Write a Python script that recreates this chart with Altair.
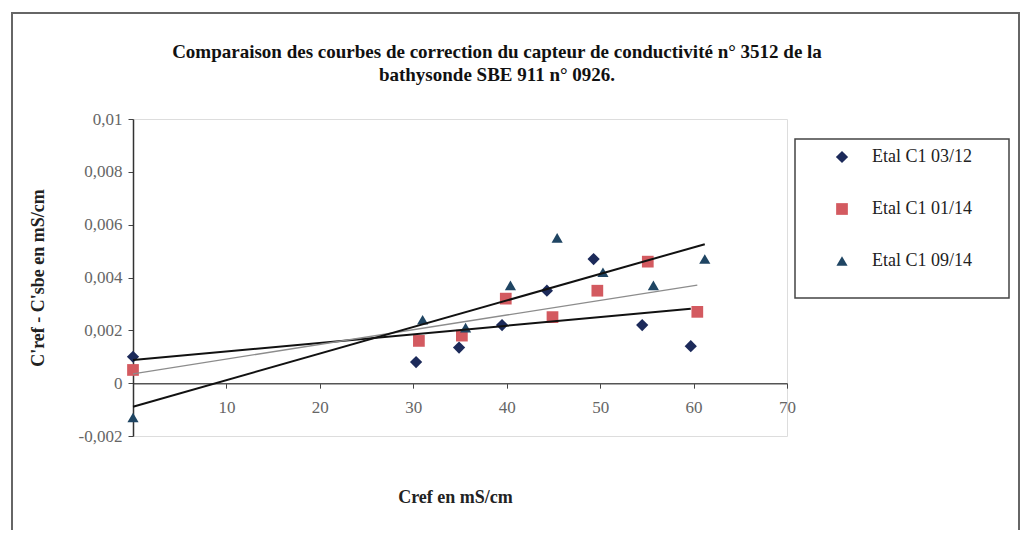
import altair as alt
import pandas as pd

series_names = ["Etal C1 03/12", "Etal C1 01/14", "Etal C1 09/14"]

cref_0312 = [0, 30.3, 34.9, 39.5, 44.3, 49.3, 54.5, 59.7]
diff_0312 = [0.0010, 0.0008, 0.00135, 0.0022, 0.0035, 0.0047, 0.0022, 0.0014]

cref_0114 = [0, 30.6, 35.2, 39.9, 44.9, 49.7, 55.1, 60.4]
diff_0114 = [0.0005, 0.0016, 0.0018, 0.0032, 0.0025, 0.0035, 0.0046, 0.0027]

cref_0914 = [0, 31.0, 35.6, 40.4, 45.4, 50.3, 55.7, 61.2]
diff_0914 = [-0.0013, 0.0024, 0.0021, 0.0037, 0.0055, 0.0042, 0.0037, 0.0047]

x_ticks = [10, 20, 30, 40, 50, 60, 70]
y_ticks = [-0.002, 0, 0.002, 0.004, 0.006, 0.008, 0.01]

title_line1 = "Comparaison des courbes de correction du capteur de conductivité n° 3512 de la"
title_line2 = "bathysonde SBE 911 n° 0926."

rows = []
for name, xs, ys in zip(series_names, [cref_0312, cref_0114, cref_0914],
                        [diff_0312, diff_0114, diff_0914]):
    for a, b in zip(xs, ys):
        rows.append({"serie": name, "cref": a, "diff": b})
df = pd.DataFrame(rows)

FONT = "Liberation Serif"
W, H = 654, 317
y0_offset = -(H * 0.002 / 0.012)

x_enc = alt.X(
    "cref:Q",
    scale=alt.Scale(domain=[0, 70], nice=False, zero=False),
    axis=alt.Axis(
        values=x_ticks, offset=y0_offset, grid=False,
        title="Cref en mS/cm", titleX=322, titleY=114, titleBaseline="middle",
        titleFont=FONT, titleFontSize=18, titleFontWeight="bold", titleColor="#222",
        labelFont=FONT, labelFontSize=17, labelColor="#666", labelPadding=11,
        labelFlush=False, tickSize=5, tickColor="#444", domainColor="#555",
        domainWidth=1.5,
    ),
)
y_enc = alt.Y(
    "diff:Q",
    scale=alt.Scale(domain=[-0.002, 0.01], nice=False, zero=False),
    axis=alt.Axis(
        values=y_ticks, grid=False,
        labelExpr="replace(toString(round(datum.value*1000)/1000), '.', ',')",
        title="C'ref - C'sbe en mS/cm", titleX=-95, titleY=158.5, titleAngle=-90,
        titleAlign="center", titleBaseline="middle",
        titleFont=FONT, titleFontSize=18, titleFontWeight="bold", titleColor="#222",
        labelFont=FONT, labelFontSize=17, labelColor="#666", labelPadding=6,
        tickSize=5, tickColor="#444", domainColor="#333", domainWidth=1.5,
    ),
)

points = alt.Chart(df).mark_point(filled=True, opacity=1).encode(
    x=x_enc,
    y=y_enc,
    color=alt.Color(
        "serie:N", sort=series_names,
        scale=alt.Scale(domain=series_names, range=["#1c2a5a", "#d35a60", "#1f4563"]),
        legend=alt.Legend(
            orient="none", legendX=700, legendY=29, title=None,
            labelFont=FONT, labelFontSize=18, labelColor="#222",
            symbolSize=60, rowPadding=34, labelOffset=21, padding=0,
        ),
    ),
    shape=alt.Shape(
        "serie:N", sort=series_names,
        scale=alt.Scale(domain=series_names, range=["diamond", "square", "triangle-up"]),
    ),
    size=alt.Size(
        "serie:N", sort=series_names,
        scale=alt.Scale(domain=series_names, range=[150, 125, 145]),
        legend=None,
    ),
)

trend = alt.Chart(df).transform_regression(
    "cref", "diff", groupby=["serie"]
).mark_line().encode(
    x="cref:Q",
    y="diff:Q",
    detail="serie:N",
    color=alt.condition(alt.datum.serie == "Etal C1 01/14", alt.value("#8c8c8c"), alt.value("#111111")),
    strokeWidth=alt.condition(alt.datum.serie == "Etal C1 01/14", alt.value(1.3), alt.value(2)),
)

deco = pd.DataFrame({"k": [0]})
outer_frame = alt.Chart(deco).mark_rect(fill=None, stroke="#666", strokeWidth=2).encode(
    x=alt.value(-121), x2=alt.value(886), y=alt.value(-106), y2=alt.value(430)
)
legend_box = alt.Chart(deco).mark_rect(fill=None, stroke="#444", strokeWidth=1.5).encode(
    x=alt.value(662), x2=alt.value(876), y=alt.value(20), y2=alt.value(179)
)
title1 = alt.Chart(deco).mark_text(
    font=FONT, fontSize=19, fontWeight="bold", color="#111", align="center", baseline="middle"
).encode(x=alt.value(364), y=alt.value(-67), text=alt.value(title_line1))
title2 = alt.Chart(deco).mark_text(
    font=FONT, fontSize=19, fontWeight="bold", color="#111", align="center", baseline="middle"
).encode(x=alt.value(364), y=alt.value(-44), text=alt.value(title_line2))

chart = alt.layer(outer_frame, legend_box, title1, title2, points, trend).properties(
    width=W, height=H,
    padding={"left": 125, "top": 111, "right": 239, "bottom": 94},
    autosize="none",
).configure_view(stroke="#cccccc", strokeWidth=1.5, fill="white").configure(background="white")

chart.save("out.html", embed_options={"renderer": "svg", "actions": False})
